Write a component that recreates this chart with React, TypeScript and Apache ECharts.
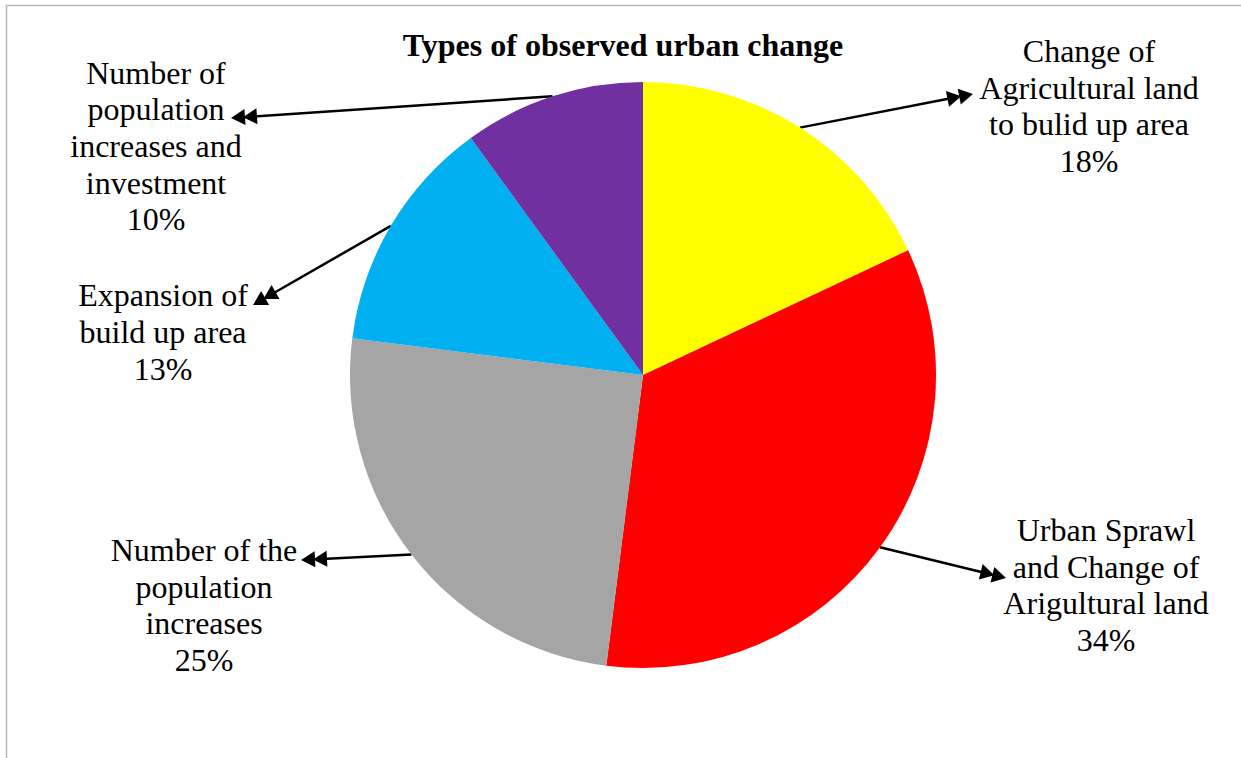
import { useEffect, useRef } from "react";
import * as echarts from "echarts";

// Slice names (with the line breaks used in their labels), shares and fills
const categories = [
  "Change of\nAgricultural land\nto bulid up area",
  "Urban Sprawl\nand Change of\nArigultural land",
  "Number of the\npopulation\nincreases",
  "Expansion of\nbuild up area",
  "Number of\npopulation\nincreases and\ninvestment",
];
const values = [18, 34, 25, 13, 10];
const colors = ["#FFFF00", "#FF0000", "#A5A5A5", "#00B0F0", "#7030A0"];
const titleText = "Types of observed urban change";

// Layout
const WIDTH = 1241;
const HEIGHT = 758;
const CENTER: [number, number] = [643, 375];
const RADIUS = 293;
const FONT = '"Liberation Serif", "Times New Roman", serif';
const labelCenters: [number, number][] = [
  [1089, 106],
  [1106, 585],
  [204, 605],
  [163, 332],
  [156, 146],
];
const arrowTips: [number, number][] = [
  [973, 94],
  [1006, 578],
  [301, 560],
  [253, 305],
  [231, 118],
];

// Leader line from the middle of each slice's rim to its label, ending in a double arrowhead
function buildArrows() {
  const total = values.reduce((a, b) => a + b, 0);
  const items: any[] = [];
  let acc = 0;
  values.forEach((v, i) => {
    const mid = ((acc + v / 2) / total) * Math.PI * 2;
    acc += v;
    const sx = CENTER[0] + RADIUS * Math.sin(mid);
    const sy = CENTER[1] - RADIUS * Math.cos(mid);
    const [tx, ty] = arrowTips[i];
    const dx = tx - sx;
    const dy = ty - sy;
    const len = Math.hypot(dx, dy);
    const ux = dx / len;
    const uy = dy / len;
    const nx = -uy;
    const ny = ux;
    const headLen = 14;
    const headHalf = 8;
    const gap = 12;
    items.push({
      type: "line",
      shape: { x1: sx, y1: sy, x2: tx - ux * (gap + 4), y2: ty - uy * (gap + 4) },
      style: { stroke: "#000", lineWidth: 2.5 },
    });
    [0, gap].forEach((off) => {
      const px = tx - ux * off;
      const py = ty - uy * off;
      const bx = px - ux * headLen;
      const by = py - uy * headLen;
      items.push({
        type: "polygon",
        shape: {
          points: [
            [px, py],
            [bx + nx * headHalf, by + ny * headHalf],
            [bx - nx * headHalf, by - ny * headHalf],
          ],
        },
        style: { fill: "#000" },
      });
    });
  });
  return items;
}

export default function App() {
  const ref = useRef<HTMLDivElement>(null);

  useEffect(() => {
    document.body.style.margin = "0";
    if (!ref.current) return;
    const chart = echarts.init(ref.current, null, { renderer: "svg" });
    chart.setOption({
      animation: false,
      backgroundColor: "#ffffff",
      graphic: [
        {
          type: "rect",
          shape: { x: 6.5, y: 5.5, width: 1400, height: 900 },
          style: { fill: "none", stroke: "#b8b8b8", lineWidth: 1.5 },
          silent: true,
        },
        {
          type: "text",
          x: 623,
          y: 45,
          style: {
            text: titleText,
            align: "center",
            verticalAlign: "middle",
            fontFamily: FONT,
            fontSize: 32,
            fontWeight: "bold",
            fill: "#000",
          },
        },
        ...buildArrows(),
      ],
      series: [
        {
          type: "pie",
          center: CENTER,
          radius: RADIUS,
          startAngle: 90,
          clockwise: true,
          itemStyle: { borderWidth: 0 },
          emphasis: { disabled: true },
          data: categories.map((name, i) => ({
            name,
            value: values[i],
            itemStyle: { color: colors[i] },
          })),
          label: {
            show: true,
            position: "outside",
            formatter: (p: any) => `${p.name}\n${p.percent}%`,
            fontFamily: FONT,
            fontSize: 32,
            lineHeight: 36.7,
            color: "#000",
            align: "center",
          },
          labelLine: { show: false },
          labelLayout: (params: any) => {
            const [x, y] = labelCenters[params.dataIndex];
            return { x, y, align: "center", verticalAlign: "middle" };
          },
        },
      ],
    });
    return () => chart.dispose();
  }, []);

  return <div ref={ref} style={{ width: WIDTH, height: HEIGHT }} />;
}
